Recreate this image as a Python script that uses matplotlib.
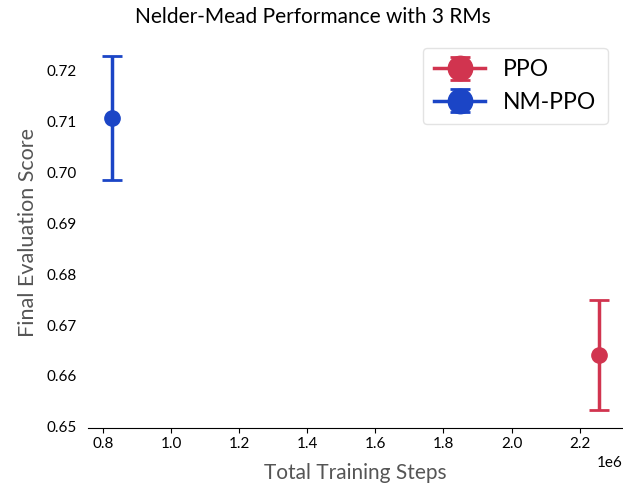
import matplotlib
matplotlib.use("Agg")
import matplotlib.pyplot as plt

plt.rcParams['font.family'] = ['Lato', 'DejaVu Sans']

# final evaluation score after training, mean and error for each method
methods = ['PPO', 'NM-PPO']
steps = [2.256e6, 0.827e6]
scores = [0.6641, 0.7107]
errors = [0.0108, 0.0122]
colors = ['#D1344F', '#1B45C6']

fig = plt.figure(figsize=(6.23, 4.9), dpi=100)
ax = fig.add_axes([0.141, 0.127, 0.859, 0.795])

for name, x, y, e, c in zip(methods, steps, scores, errors, colors):
    ax.errorbar(x, y, yerr=e, fmt='-o', color=c, markersize=11, linewidth=2.5,
                elinewidth=2.5, capsize=7, capthick=2, label=name)

fig.suptitle('Nelder-Mead Performance with 3 RMs', fontsize=15, x=0.503, y=0.985)
ax.set_xlabel('Total Training Steps', fontsize=15, color='#555555', labelpad=8)
ax.set_ylabel('Final Evaluation Score', fontsize=15.5, color='#555555', labelpad=6)

for side in ['left', 'top', 'right']:
    ax.spines[side].set_visible(False)
ax.tick_params(axis='y', length=0, labelsize=11, pad=8)
ax.tick_params(axis='x', labelsize=11)
ax.set_yticks([0.65, 0.66, 0.67, 0.68, 0.69, 0.70, 0.71, 0.72])
ax.xaxis.get_offset_text().set_fontsize(11)

ax.legend(loc='upper right', fontsize=16.5, markerscale=1.6,
          edgecolor='#dddddd', borderpad=0.5, handlelength=2.2,
          bbox_to_anchor=(0.993, 1.005))

fig.savefig('out.png', dpi=100)
